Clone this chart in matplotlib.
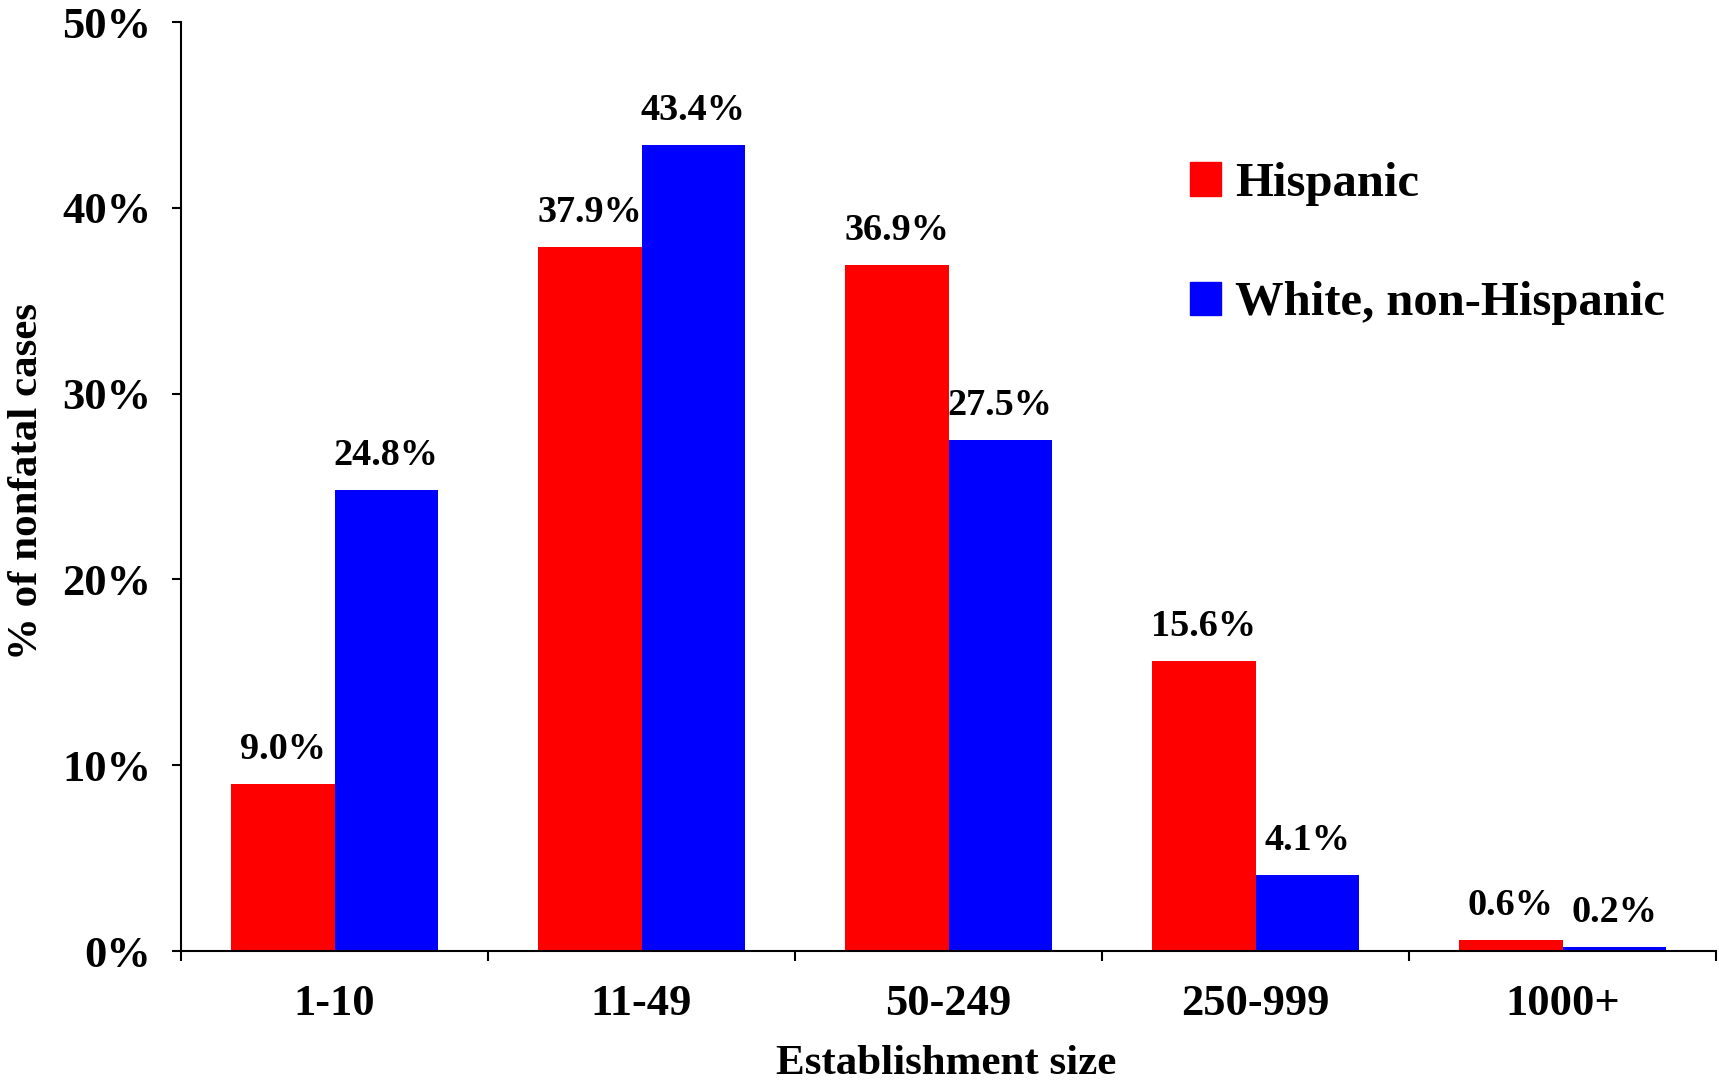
import matplotlib
matplotlib.use('Agg')
import matplotlib.pyplot as plt
from matplotlib.patches import Patch
import numpy as np

# Share of nonfatal cases by establishment size
sizes = ['1-10', '11-49', '50-249', '250-999', '1000+']
hispanic = [9.0, 37.9, 36.9, 15.6, 0.6]
white_non_hispanic = [24.8, 43.4, 27.5, 4.1, 0.2]
series_names = ['Hispanic', 'White, non-Hispanic']
y_ticks = [0, 10, 20, 30, 40, 50]

plt.rcParams['font.family'] = 'Liberation Serif'
plt.rcParams['font.weight'] = 'bold'

fig = plt.figure(figsize=(17.19, 10.86), dpi=100)
ax = fig.add_axes([0.1053, 0.1243, 0.8930, 0.8554])

x = np.arange(len(sizes))
w = 0.336
bars_h = ax.bar(x - w / 2, hispanic, w, color='#ff0000')
bars_w = ax.bar(x + w / 2, white_non_hispanic, w, color='#0000ff')

# value labels above each bar
for bars, vals in [(bars_h, hispanic), (bars_w, white_non_hispanic)]:
    for b, v in zip(bars, vals):
        ax.annotate(f'{v:.1f}%', (b.get_x() + b.get_width() / 2, v),
                    xytext=(0, 18), textcoords='offset points',
                    ha='center', va='baseline', fontsize=27.5, fontweight='bold')

ax.set_xlim(-0.5, len(sizes) - 0.5)
ax.set_ylim(0, 50)

ax.set_yticks(y_ticks)
ax.set_yticklabels([f'{t}%' for t in y_ticks], fontsize=32, fontweight='bold')
ax.tick_params(axis='y', direction='out', length=6.5, width=1.5, pad=15)

# category labels centred, tick marks on the boundaries
ax.set_xticks(x)
ax.set_xticklabels(sizes, fontsize=32, fontweight='bold')
ax.tick_params(axis='x', which='major', length=0, pad=24)
ax.set_xticks(np.arange(len(sizes) + 1) - 0.5, minor=True)
ax.tick_params(axis='x', which='minor', direction='out', length=7, width=1.5)

for s in ['top', 'right']:
    ax.spines[s].set_visible(False)
for s in ['left', 'bottom']:
    ax.spines[s].set_linewidth(1.5)

fig.text(27 / 1719, 1 - 482 / 1086, '% of nonfatal cases', rotation=90,
         ha='center', va='center', fontsize=31, fontweight='bold')
fig.text(946 / 1719, 1 - 1064 / 1086, 'Establishment size',
         ha='center', va='center', fontsize=31, fontweight='bold')

handles = [Patch(color='#ff0000'), Patch(color='#0000ff')]
ax.legend(handles, series_names, loc='upper left',
          bbox_to_anchor=(1190 / 1719, 1 - 162 / 1086),
          bbox_transform=fig.transFigure, frameon=False,
          prop={'size': 35, 'weight': 'bold'},
          handlelength=0.64, handleheight=0.68, handletextpad=0.28,
          labelspacing=1.55, borderpad=0, borderaxespad=0)

fig.savefig('out.png', dpi=100)
